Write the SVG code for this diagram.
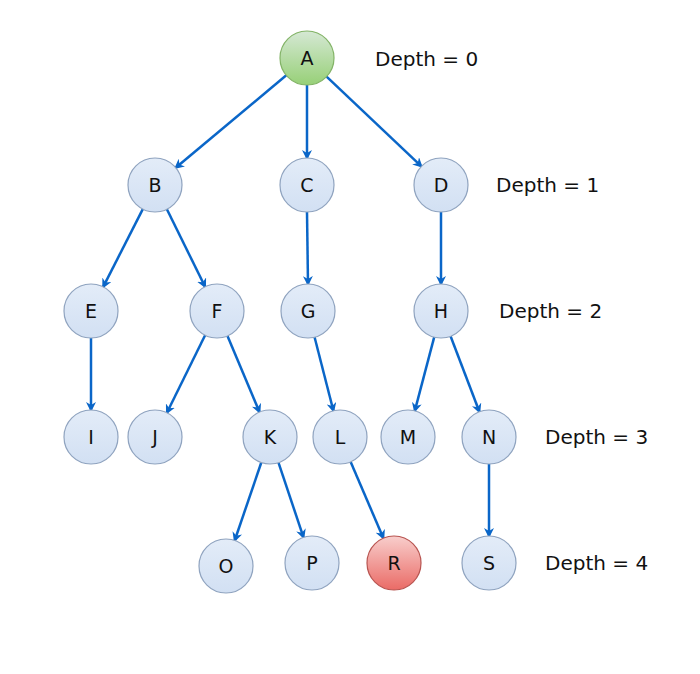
<svg xmlns="http://www.w3.org/2000/svg" width="700" height="674" viewBox="0 0 700 674">
<style>
.n{fill:url(#gb);stroke:#8fa3bf;stroke-width:1.2}
.t{font-family:"DejaVu Sans",sans-serif;font-size:19px;text-anchor:middle;dominant-baseline:central;fill:#111}
.d{font-family:"DejaVu Sans",sans-serif;font-size:20px;fill:#111}
.e{stroke:#0a66c8;stroke-width:2.5;fill:none;marker-end:url(#ar)}
</style>
<defs>
<linearGradient id="gb" x1="0" y1="0" x2="0" y2="1"><stop offset="0" stop-color="#e3ecf8"/><stop offset="1" stop-color="#d2e0f3"/></linearGradient>
<linearGradient id="gg" x1="0" y1="0" x2="0" y2="1"><stop offset="0" stop-color="#d5e8d4"/><stop offset="1" stop-color="#97d077"/></linearGradient>
<linearGradient id="gr" x1="0" y1="0" x2="0" y2="1"><stop offset="0" stop-color="#f8cecc"/><stop offset="1" stop-color="#ea6b66"/></linearGradient>
<marker id="ar" markerWidth="10" markerHeight="10" refX="8" refY="5" orient="auto" markerUnits="userSpaceOnUse" viewBox="0 0 10 10"><path d="M0,0 L10,5 L0,10 L3,5 Z" fill="#0a66c8"/></marker>
</defs>
<rect width="700" height="674" fill="#fff"/>
<g id="edges">
<line class="e" x1="286.3" y1="75.3" x2="175.7" y2="167.7"/>
<line class="e" x1="307" y1="85" x2="307" y2="158"/>
<line class="e" x1="326.6" y1="76.6" x2="421.4" y2="166.4"/>
<line class="e" x1="142.8" y1="209.1" x2="103.2" y2="286.9"/>
<line class="e" x1="166.9" y1="209.2" x2="205.1" y2="286.8"/>
<line class="e" x1="307" y1="212" x2="308" y2="284"/>
<line class="e" x1="441" y1="212" x2="441" y2="284"/>
<line class="e" x1="91" y1="338" x2="91" y2="410"/>
<line class="e" x1="205.1" y1="335.2" x2="166.9" y2="412.8"/>
<line class="e" x1="227.5" y1="335.9" x2="259.5" y2="412.1"/>
<line class="e" x1="314.6" y1="337.2" x2="333.4" y2="410.8"/>
<line class="e" x1="434.2" y1="337.1" x2="414.8" y2="410.9"/>
<line class="e" x1="450.6" y1="336.2" x2="479.4" y2="411.8"/>
<line class="e" x1="261.3" y1="462.5" x2="234.7" y2="540.5"/>
<line class="e" x1="278.5" y1="462.6" x2="303.5" y2="537.4"/>
<line class="e" x1="350.6" y1="461.8" x2="383.4" y2="538.2"/>
<line class="e" x1="489" y1="464" x2="489" y2="536"/>
</g>
<g id="A"><circle cx="307" cy="58" r="27" fill="url(#gg)" stroke="#82b366" stroke-width="1.2"/><text class="t" x="307" y="58">A</text></g>
<g id="B"><circle class="n" cx="155" cy="185" r="27"/><text class="t" x="155" y="185">B</text></g>
<g id="C"><circle class="n" cx="307" cy="185" r="27"/><text class="t" x="307" y="185">C</text></g>
<g id="D"><circle class="n" cx="441" cy="185" r="27"/><text class="t" x="441" y="185">D</text></g>
<g id="E"><circle class="n" cx="91" cy="311" r="27"/><text class="t" x="91" y="311">E</text></g>
<g id="F"><circle class="n" cx="217" cy="311" r="27"/><text class="t" x="217" y="311">F</text></g>
<g id="G"><circle class="n" cx="308" cy="311" r="27"/><text class="t" x="308" y="311">G</text></g>
<g id="H"><circle class="n" cx="441" cy="311" r="27"/><text class="t" x="441" y="311">H</text></g>
<g id="I"><circle class="n" cx="91" cy="437" r="27"/><text class="t" x="91" y="437">I</text></g>
<g id="J"><circle class="n" cx="155" cy="437" r="27"/><text class="t" x="155" y="437">J</text></g>
<g id="K"><circle class="n" cx="270" cy="437" r="27"/><text class="t" x="270" y="437">K</text></g>
<g id="L"><circle class="n" cx="340" cy="437" r="27"/><text class="t" x="340" y="437">L</text></g>
<g id="M"><circle class="n" cx="408" cy="437" r="27"/><text class="t" x="408" y="437">M</text></g>
<g id="N"><circle class="n" cx="489" cy="437" r="27"/><text class="t" x="489" y="437">N</text></g>
<g id="O"><circle class="n" cx="226" cy="566" r="27"/><text class="t" x="226" y="566">O</text></g>
<g id="P"><circle class="n" cx="312" cy="563" r="27"/><text class="t" x="312" y="563">P</text></g>
<g id="R"><circle cx="394" cy="563" r="27" fill="url(#gr)" stroke="#b85450" stroke-width="1.2"/><text class="t" x="394" y="563">R</text></g>
<g id="S"><circle class="n" cx="489" cy="563" r="27"/><text class="t" x="489" y="563">S</text></g>
<g id="labels">
<text class="d" x="375" y="66">Depth = 0</text>
<text class="d" x="496" y="192">Depth = 1</text>
<text class="d" x="499" y="318">Depth = 2</text>
<text class="d" x="545" y="444">Depth = 3</text>
<text class="d" x="545" y="570">Depth = 4</text>
</g>
</svg>
